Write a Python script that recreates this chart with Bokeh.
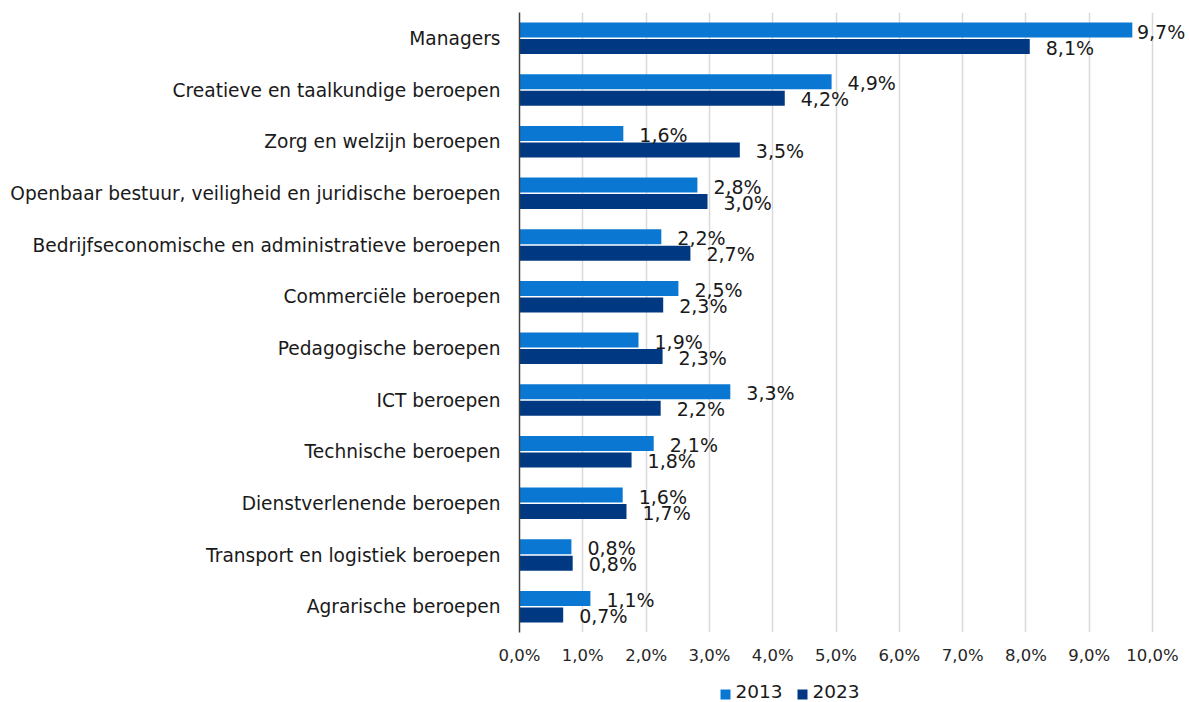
from bokeh.plotting import figure
from bokeh.layouts import column
from bokeh.models import FactorRange, Range1d, FixedTicker, ColumnDataSource
from bokeh.transform import dodge
from bokeh.embed import file_html
from bokeh.resources import INLINE
from bokeh.core.properties import value

categories = [
    "Managers",
    "Creatieve en taalkundige beroepen",
    "Zorg en welzijn beroepen",
    "Openbaar bestuur, veiligheid en juridische beroepen",
    "Bedrijfseconomische en administratieve beroepen",
    "Commerciële beroepen",
    "Pedagogische beroepen",
    "ICT beroepen",
    "Technische beroepen",
    "Dienstverlenende beroepen",
    "Transport en logistiek beroepen",
    "Agrarische beroepen",
]
vals_2013 = [9.68, 4.93, 1.64, 2.81, 2.24, 2.51, 1.88, 3.33, 2.12, 1.63, 0.82, 1.12]
vals_2023 = [8.06, 4.19, 3.48, 2.97, 2.70, 2.27, 2.26, 2.23, 1.77, 1.69, 0.84, 0.69]
series = ["2013", "2023"]
x_ticks = [0, 1, 2, 3, 4, 5, 6, 7, 8, 9, 10]
tick_labels = ["0,0%", "1,0%", "2,0%", "3,0%", "4,0%", "5,0%", "6,0%", "7,0%", "8,0%", "9,0%", "10,0%"]

FONT = "DejaVu Sans"
C13 = "#0A78D2"
C23 = "#003882"
colors = [C13, C23]


def fmt(v):
    return ("%.1f" % v).replace(".", ",") + "%"


src = ColumnDataSource(dict(
    cat=categories,
    v13=vals_2013,
    v23=vals_2023,
    lx13=[min(v, 9.5) for v in vals_2013],
    lx23=[min(v, 9.5) for v in vals_2023],
    lab13=[fmt(v) for v in vals_2013],
    lab23=[fmt(v) for v in vals_2023],
))

p = figure(
    y_range=FactorRange(*categories[::-1]),
    x_range=Range1d(0, 10.52),
    frame_width=666, frame_height=620,
    output_backend="svg", toolbar_location=None,
    min_border_left=519, min_border_right=0, min_border_top=12, min_border_bottom=38,
)
p.outline_line_color = None
p.background_fill_color = "white"

p.hbar(y=dodge("cat", 0.16, range=p.y_range), left=0, right="v13", height=0.29,
       source=src, fill_color=C13, line_color=None)
p.hbar(y=dodge("cat", -0.16, range=p.y_range), left=0, right="v23", height=0.29,
       source=src, fill_color=C23, line_color=None)

p.text(x="lx13", y=dodge("cat", 0.13, range=p.y_range), text="lab13", source=src,
       x_offset=16, text_baseline="middle", text_align="left",
       text_font=value(FONT), text_font_size="19px", text_color="#1a1a1a")
p.text(x="lx23", y=dodge("cat", -0.18, range=p.y_range), text="lab23", source=src,
       x_offset=16, text_baseline="middle", text_align="left",
       text_font=value(FONT), text_font_size="19px", text_color="#1a1a1a")

# grid
p.ygrid.grid_line_color = None
p.xgrid.grid_line_color = "#d9d9d9"
p.xgrid.grid_line_width = 1.5
p.xaxis.ticker = FixedTicker(ticks=x_ticks)
p.xaxis.major_label_overrides = {t: l for t, l in zip(x_ticks, tick_labels)}

# x axis
p.xaxis.axis_line_color = None
p.xaxis.major_tick_line_color = None
p.xaxis.minor_tick_line_color = None
p.xaxis.major_tick_out = 0
p.xaxis.major_label_standoff = 13
p.xaxis.major_label_text_font = FONT
p.xaxis.major_label_text_font_size = "16.5px"
p.xaxis.major_label_text_color = "#262626"

# y axis
p.yaxis.axis_line_color = "#404040"
p.yaxis.axis_line_width = 1.5
p.yaxis.major_tick_line_color = None
p.yaxis.minor_tick_line_color = None
p.yaxis.major_tick_out = 0
p.yaxis.major_label_standoff = 19
p.yaxis.major_label_text_font = FONT
p.yaxis.major_label_text_font_size = "18.6px"
p.yaxis.major_label_text_color = "#1a1a1a"

# legend strip below the chart; its frame is aligned with the chart frame (519..1185 px)
lg = figure(
    width=1185, height=32, x_range=Range1d(519, 1185), y_range=Range1d(0, 32),
    x_axis_type=None, y_axis_type=None, output_backend="svg", toolbar_location=None,
    min_border_left=519, min_border_right=0, min_border_top=0, min_border_bottom=0,
)
lg.outline_line_color = None
lg.xgrid.visible = False
lg.ygrid.visible = False
leg_x = [725, 802]
lg.rect(x=leg_x, y=[8, 8], width=10, height=10, fill_color=colors, line_color=None)
lg.text(x=[x + 10 for x in leg_x], y=[11, 11], text=series, text_baseline="middle", text_align="left",
        text_font=value(FONT), text_font_size="18.5px", text_color="#1a1a1a")

layout = column(p, lg, spacing=0)
open("out.html", "w").write(file_html(layout, INLINE))
